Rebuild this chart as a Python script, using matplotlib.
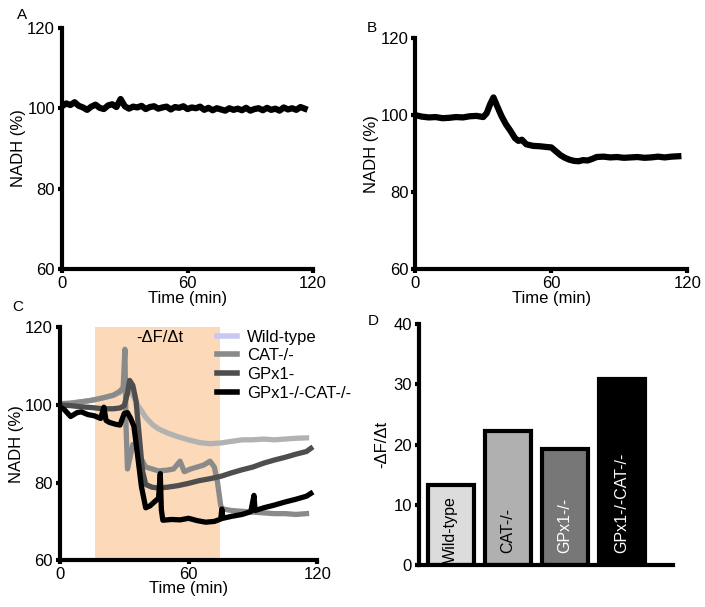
import matplotlib
matplotlib.use("Agg")
import matplotlib.pyplot as plt
from matplotlib.lines import Line2D

plt.rcParams['font.family'] = ['Liberation Sans', 'DejaVu Sans']

# Panel A: control trace
time_a = list(range(0, 118, 2))
nadh_a = [100.5, 101.2, 100.8, 101.5, 100.6, 100.2, 99.6, 100.4, 100.9, 100.1,
          99.8, 100.7, 101.0, 100.3, 102.3, 100.5, 99.9, 100.4, 100.2, 100.6,
          99.8, 100.3, 100.5, 99.9, 100.2, 100.4, 99.7, 100.3, 100.1, 100.5,
          99.8, 100.2, 100.0, 100.4, 99.6, 100.1, 99.5, 100.0, 99.7, 99.4,
          100.0, 99.6, 99.9, 99.5, 100.1, 99.4, 99.8, 100.0, 99.5, 100.1,
          99.6, 99.9, 99.4, 100.2, 99.7, 100.0, 99.6, 100.3, 99.9]

# Panel B
time_b = [0, 3, 6, 9, 12, 15, 18, 21, 24, 27,
          30, 31.5, 33, 34.5, 36, 38, 40, 42, 44, 45.5,
          47, 49, 52, 55, 58, 60, 62, 64, 66, 68,
          70, 72, 74, 76, 78, 80, 83, 86, 89, 92,
          95, 98, 101, 104, 107, 110, 113, 116]
nadh_b = [100.0, 99.6, 99.4, 99.5, 99.2, 99.3, 99.5, 99.4, 99.7, 99.8,
          99.5, 100.5, 102.8, 104.6, 102.5, 99.8, 97.6, 95.9, 94.0, 93.3,
          93.6, 92.4, 92.0, 91.9, 91.7, 91.6, 90.6, 89.6, 88.9, 88.4,
          88.1, 88.0, 88.3, 88.2, 88.6, 89.1, 89.2, 89.0, 89.1, 88.9,
          89.0, 89.1, 88.9, 89.0, 89.2, 89.0, 89.2, 89.3]

# Panel C: four genotypes
wt_time = [0, 5, 10, 15, 20, 25, 28, 30, 32, 34,
           36, 38, 40, 43, 46, 50, 55, 60, 65, 70,
           75, 80, 85, 90, 95, 100, 105, 110, 115]
wt_nadh = [100.3, 100.5, 100.8, 101.2, 101.8, 102.5, 103.2, 104.5, 104.0, 102.5,
           100.2, 98.5, 96.8, 95.0, 93.8, 92.8, 91.8, 91.0, 90.3, 90.0,
           90.2, 90.6, 91.0, 91.0, 91.2, 91.0, 91.2, 91.4, 91.5]

cat_time = [0, 5, 10, 15, 20, 25, 28, 29.5, 30.3, 30.8,
            31.5, 32.5, 34, 36, 38, 40, 43, 46, 50, 53,
            56, 58, 61, 64, 67, 70, 72, 73.5, 75, 76,
            80, 85, 90, 95, 100, 105, 110, 115]
cat_nadh = [100.2, 100.4, 100.8, 101.2, 101.8, 102.5, 103.5, 104.5, 114.3, 95.0,
            83.5, 86.0, 89.8, 88.5, 86.0, 84.0, 83.5, 83.0, 83.2, 83.5,
            85.5, 82.8, 83.5, 84.0, 84.5, 85.5, 84.0, 80.0, 74.0, 73.2,
            72.8, 72.6, 72.4, 72.2, 72.0, 72.0, 71.8, 72.0]

gpx_time = [0, 5, 10, 15, 20, 25, 28, 30, 31.5, 32.5,
            34, 35.5, 37, 38.5, 40, 43, 46, 50, 55, 60,
            65, 70, 75, 80, 85, 90, 95, 100, 105, 110,
            115, 117]
gpx_nadh = [100.0, 99.8, 99.5, 99.3, 99.0, 99.0, 99.2, 99.8, 103.0, 106.3,
            105.0, 101.0, 92.0, 83.0, 79.5, 78.8, 78.6, 78.8, 79.2, 79.8,
            80.5, 81.0, 81.6, 82.5, 83.3, 84.0, 85.0, 85.8, 86.5, 87.3,
            88.0, 88.8]

dko_time = [0, 2, 5, 8, 10, 13, 16, 19, 20.5, 21.5,
            23, 26, 28, 30, 31.5, 33, 34.5, 36, 38, 40,
            42, 44, 46, 46.8, 47.3, 48, 52, 56, 60, 64,
            68, 72, 75, 75.5, 76, 80, 85, 89, 90.5, 91,
            95, 100, 105, 110, 115, 117]
dko_nadh = [99.5, 98.8, 97.0, 98.0, 98.2, 97.5, 97.2, 96.5, 99.4, 96.0,
            95.5, 95.0, 94.8, 97.8, 98.0, 96.5, 94.5, 88.0, 79.0, 73.5,
            74.0, 75.0, 76.0, 82.3, 73.0, 70.3, 70.5, 70.4, 70.8, 70.2,
            69.8, 70.0, 70.6, 73.2, 70.8, 71.3, 71.8, 72.5, 76.7, 72.8,
            73.5, 74.2, 75.0, 75.7, 76.5, 77.2]

window = [16.3, 74.7]
legend_labels = ["Wild-type", "CAT-/-", "GPx1-", "GPx1-/-CAT-/-"]

# Panel D: rates
genotypes = ["Wild-type", "CAT-/-", "GPx1-/-", "GPx1-/-CAT-/-"]
rates = [13.3, 22.3, 19.3, 30.9]

FS = 12
fig = plt.figure(figsize=(7.05, 6.07), dpi=100)


def style_axis(ax):
    for side in ['top', 'right']:
        ax.spines[side].set_visible(False)
    for side in ['left', 'bottom']:
        ax.spines[side].set_linewidth(3)
    ax.tick_params(direction='out', length=3, width=3, labelsize=FS, pad=2)


def trace_axis(ax):
    style_axis(ax)
    ax.set_xlim(0, 120)
    ax.set_ylim(60, 120)
    ax.set_xticks([0, 60, 120])
    ax.set_yticks([60, 80, 100, 120])
    ax.set_ylabel("NADH (%)", fontsize=FS, labelpad=1)


# A
ax_a = fig.add_axes([0.088, 0.557, 0.356, 0.397])
ax_a.plot(time_a, nadh_a, color='black', lw=4.5, solid_joinstyle='round')
trace_axis(ax_a)
ax_a.set_xlabel("Time (min)", fontsize=FS, labelpad=0)

# B
ax_b = fig.add_axes([0.589, 0.557, 0.386, 0.38])
ax_b.plot(time_b, nadh_b, color='black', lw=4.5, solid_joinstyle='round')
trace_axis(ax_b)
ax_b.set_xlabel("Time (min)", fontsize=FS, labelpad=0)

# C
ax_c = fig.add_axes([0.085, 0.077, 0.365, 0.384])
ax_c.axvspan(window[0], window[1], color='#fcd9b8', lw=0)
ax_c.plot(wt_time, wt_nadh, color='#b2b2b2', lw=3.8)
ax_c.plot(cat_time, cat_nadh, color='#8a8a8a', lw=3.8)
ax_c.plot(gpx_time, gpx_nadh, color='#4e4e4e', lw=3.8)
ax_c.plot(dko_time, dko_nadh, color='black', lw=3.8)
trace_axis(ax_c)
ax_c.set_xlabel("Time (min)", fontsize=FS, labelpad=-1)
ax_c.text(46.7, 117.4, "-ΔF/Δt", fontsize=FS, ha='center', va='center')
handles = [Line2D([], [], color=c, lw=4) for c in ['#c8c8f0', '#8a8a8a', '#4e4e4e', 'black']]
ax_c.legend(handles, legend_labels, loc='upper left', bbox_to_anchor=(0.61, 0.99),
            frameon=False, fontsize=FS, handlelength=1.2, handletextpad=0.6,
            labelspacing=0.22, borderpad=0, borderaxespad=0)

# D
ax_d = fig.add_axes([0.594, 0.069, 0.361, 0.397])
bar_colors = ['#dcdcdc', '#b0b0b0', '#777777', 'black']
text_colors = ['black', 'black', 'white', 'white']
pos = list(range(len(genotypes)))
ax_d.bar(pos, rates, width=0.8, color=bar_colors, edgecolor='black', linewidth=3)
for i, name in enumerate(genotypes):
    ax_d.text(pos[i], 0.3 if i == 0 else 2.0, name, rotation=90, ha='center', va='bottom',
              fontsize=11.5, color=text_colors[i])
style_axis(ax_d)
ax_d.set_xlim(-0.56, 3.9)
ax_d.set_ylim(0, 40)
ax_d.set_xticks([])
ax_d.set_yticks([0, 10, 20, 30, 40])
ax_d.set_ylabel("-ΔF/Δt", fontsize=FS, labelpad=3)

# panel letters
fig.text(22 / 705, 1 - 15 / 607, "A", fontsize=11, ha='center', va='center')
fig.text(372 / 705, 1 - 28 / 607, "B", fontsize=11, ha='center', va='center')
fig.text(18 / 705, 1 - 307 / 607, "C", fontsize=11, ha='center', va='center')
fig.text(373 / 705, 1 - 321 / 607, "D", fontsize=11, ha='center', va='center')

fig.savefig("out.png", dpi=100)
